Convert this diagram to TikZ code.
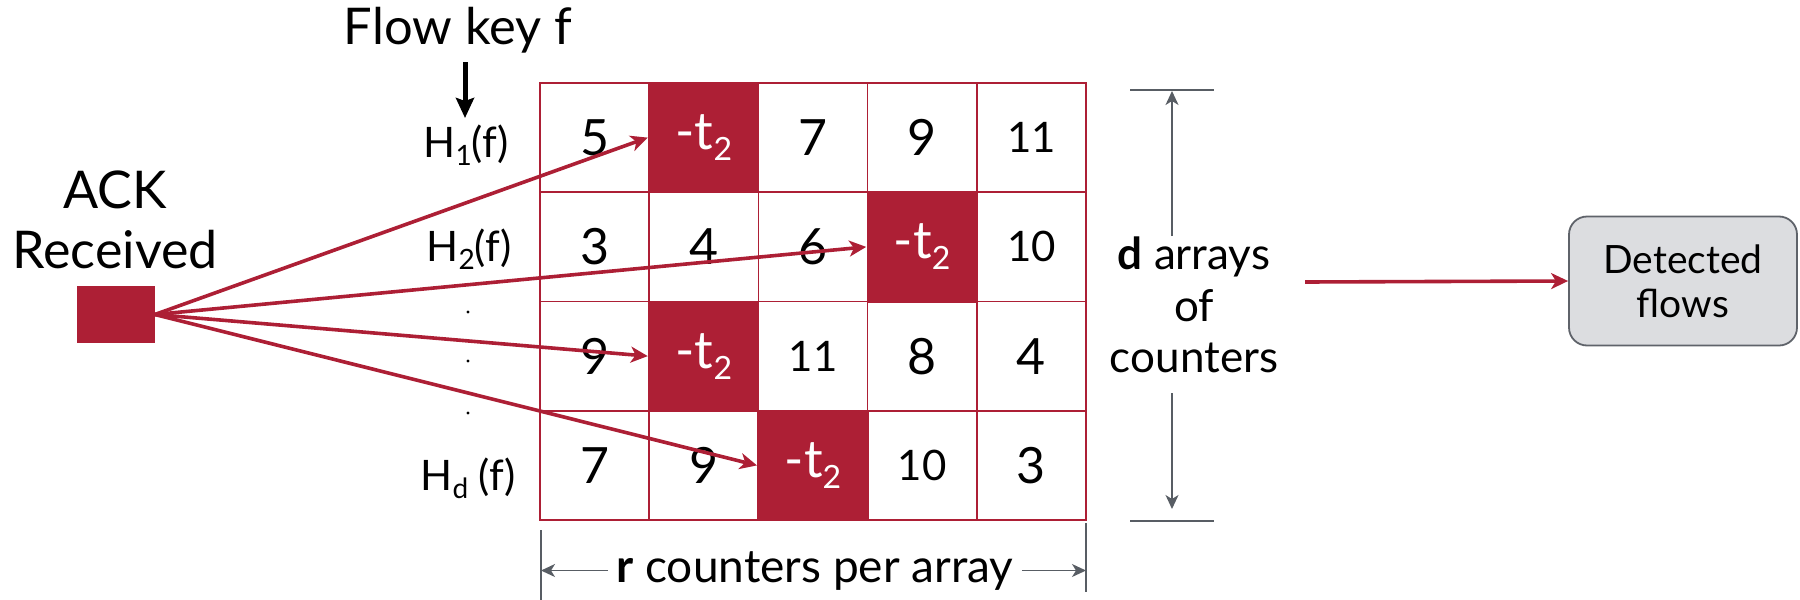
\documentclass[tikz,border=0pt]{standalone}
\usepackage{fontspec}
\setmainfont{Lato}
\usetikzlibrary{arrows.meta}
\definecolor{crim}{RGB}{173,31,53}
\definecolor{dimgray}{RGB}{88,93,100}
\definecolor{boxfill}{RGB}{220,221,224}
\definecolor{boxline}{RGB}{95,99,106}
\newcommand{\lsub}[3]{\raisebox{-#2}{\fontsize{#1}{#1}\selectfont #3}}
\newcommand{\minustwo}{-t\lsub{16pt}{5.5pt}{2}}
\begin{document}
\begin{tikzpicture}[x=0.5pt,y=-0.5pt,
  cellbox/.style={draw=crim,line width=0.75pt,minimum width=54.6pt,minimum height=54.6pt,inner sep=0pt,font=\fontsize{25}{25}\selectfont},
  cellbox2/.style={cellbox,font=\fontsize{21}{21}\selectfont},
  hotbox/.style={fill=crim,text=white,minimum width=55.6pt,minimum height=55.6pt,inner sep=0pt,font=\fontsize{26}{26}\selectfont},
  redarrow/.style={draw=crim,line width=1.8pt,-{Stealth[length=8.5pt,width=8pt,inset=2.4pt]}},
  dimarrow/.style={draw=dimgray,line width=0.75pt,-{Stealth[length=7pt,width=6.5pt,inset=2pt]}},
  dimline/.style={draw=dimgray,line width=0.75pt},
  hlabel/.style={anchor=base,inner sep=0pt,font=\fontsize{21}{21}\selectfont},
  bigtext/.style={inner sep=0pt,align=center,font=\fontsize{26}{30}\selectfont},
]
\useasboundingbox (0,0) rectangle (1800,600);

% title and hash labels
\node[anchor=base,inner sep=0pt,font=\fontsize{25.3}{25.3}\selectfont] (flowkey) at (458,44) {Flow key f};
\node[hlabel] (h1) at (466,157) {H\lsub{14pt}{4pt}{1}(f)};
\node[hlabel] (h2) at (469,261) {H\lsub{14pt}{4pt}{2}(f)};
\node[hlabel] (hd) at (468,490) {H\lsub{14pt}{4pt}{d} (f)};
\coordinate (fka) at (465,62);
\coordinate (fkb) at (465,118);
\draw[line width=2.5pt,-{Stealth[length=10pt,width=9pt,inset=1.5pt]}] (fka) -- (fkb);
\foreach \yy in {312,361,413}
  \fill (468,\yy) circle[radius=1.7];

% ACK
\node[bigtext] (acktext) at (115,219.5) {ACK\\Received};
\node[fill=crim,minimum width=39pt,minimum height=28.5pt,inner sep=0pt] (ack) at (115.5,314.5) {};

% grid of counters
\node[cellbox]  (c11) at (594.6,137.6) {5};
\node[cellbox]  (c13) at (813.0,137.6) {7};
\node[cellbox]  (c14) at (922.2,137.6) {9};
\node[cellbox2] (c15) at (1031.4,137.6) {11};
\node[cellbox]  (c21) at (594.6,246.9) {3};
\node[cellbox]  (c22) at (703.8,246.9) {4};
\node[cellbox]  (c23) at (813.0,246.9) {6};
\node[cellbox2] (c25) at (1031.4,246.9) {10};
\node[cellbox]  (c31) at (594.6,356.1) {9};
\node[cellbox2] (c33) at (813.0,356.1) {11};
\node[cellbox]  (c34) at (922.2,356.1) {8};
\node[cellbox]  (c35) at (1031.4,356.1) {4};
\node[cellbox]  (c41) at (594.6,465.4) {7};
\node[cellbox]  (c42) at (703.8,465.4) {9};
\node[cellbox2] (c44) at (922.2,465.4) {10};
\node[cellbox]  (c45) at (1031.4,465.4) {3};
\node[hotbox] (c12) at (703.8,137.6) {\minustwo};
\node[hotbox] (c24) at (922.2,246.9) {\minustwo};
\node[hotbox] (c32) at (703.8,356.1) {\minustwo};
\node[hotbox] (c43) at (813.0,465.4) {\minustwo};

% hash arrows
\draw[redarrow] (ack.east) -- (c12.west);
\draw[redarrow] (ack.east) -- (c24.west);
\draw[redarrow] (ack.east) -- (c32.west);
\draw[redarrow] (ack.east) -- (c43.west);

% d arrays dimension
\node[inner sep=0pt,align=center,font=\fontsize{22}{25.75}\selectfont] (dlabel) at (1194,305) {\textbf{d} arrays\\of\\counters};
\coordinate (dt1) at (1130,90);
\coordinate (dt2) at (1214,90);
\coordinate (db1) at (1130,521);
\coordinate (db2) at (1214,521);
\draw[dimline] (dt1) -- (dt2);
\draw[dimline] (db1) -- (db2);
\coordinate (dup) at (1172,236);
\coordinate (dtop) at (1172,91);
\coordinate (ddown) at (1172,393);
\coordinate (dbot) at (1172,509);
\draw[dimarrow] (dup) -- (dtop);
\draw[dimarrow] (ddown) -- (dbot);

% r counters dimension
\node[anchor=base,inner sep=4pt,font=\fontsize{23}{23}\selectfont] (rlabel) at (815,582) {\textbf{r} counters per array};
\coordinate (rl1) at (541,530);
\coordinate (rl2) at (541,600);
\coordinate (rr1) at (1086,523);
\coordinate (rr2) at (1086,592);
\draw[dimline] (rl1) -- (rl2);
\draw[dimline] (rr1) -- (rr2);
\draw[dimarrow] (rlabel.west) -- (rlabel.west -| rl1);
\draw[dimarrow] (rlabel.east) -- (rlabel.east -| rr1);

% detected flows
\node[draw=boxline,fill=boxfill,line width=0.9pt,rounded corners=9pt,minimum width=114pt,minimum height=64.5pt,align=center,font=\fontsize{19.5}{22}\selectfont] (det) at (1683,281) {Detected\\flows};
\coordinate (dout) at (1305,282);
\draw[redarrow] (dout) -- (det.west);
\end{tikzpicture}
\end{document}
